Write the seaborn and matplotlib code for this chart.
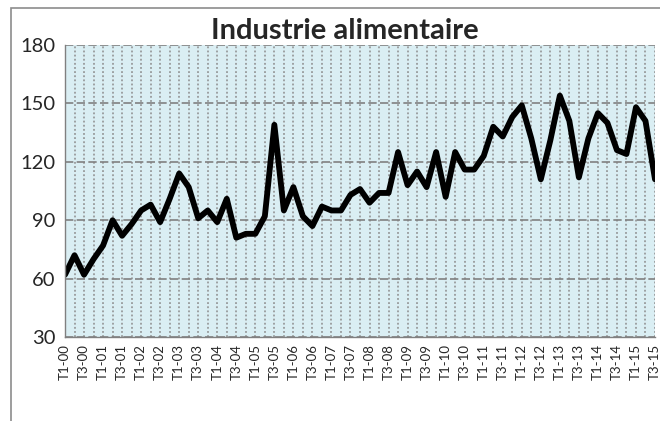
# Industrie alimentaire - indice trimestriel
import numpy as np
import pandas as pd
import matplotlib
matplotlib.use('Agg')
import matplotlib.pyplot as plt
import seaborn as sns
from matplotlib.patches import Rectangle

# data, T1-00 .. T3-15 (quarterly)
years = list(range(2000, 2016))
quarters = [f"T{q}-{y % 100:02d}" for y in years for q in (1, 2, 3, 4)][:63]
values = [62, 72, 62, 70, 77, 90, 82, 88, 95, 98,
          89, 101, 114, 107, 91, 95, 89, 101, 81, 83,
          83, 92, 139, 95, 107, 92, 87, 97, 95, 95,
          103, 106, 99, 104, 104, 125, 108, 115, 107, 125,
          102, 125, 116, 116, 123, 138, 133, 143, 149, 132,
          111, 131, 154, 141, 112, 132, 145, 140, 126, 124,
          148, 141, 111]
tick_labels = quarters[::2]

df = pd.DataFrame({'idx': np.arange(len(values)), 'val': values})

sns.set_style('white')
plt.rcParams['font.family'] = ['Lato', 'DejaVu Sans']

fig = plt.figure(figsize=(6.6, 4.21), dpi=100)
ax = fig.add_axes([65/660, 1-337/421, 590/660, 292/421])
ax.set_facecolor('#DAEEF3')

sns.lineplot(data=df, x='idx', y='val', color='black', linewidth=4.2, ax=ax)

ax.set_xlim(0, len(values) - 1)
ax.set_ylim(30, 180)
ax.set_yticks([30, 60, 90, 120, 150, 180])
ax.set_xticks(np.arange(0, len(values), 2))
ax.set_xticklabels(tick_labels, rotation=90, fontsize=9.5)
ax.set_xticks(np.arange(len(values)), minor=True)
ax.tick_params(axis='y', labelsize=14.5, direction='inout', length=6, color='#808080', width=1, pad=4)
ax.tick_params(axis='x', which='both', direction='inout', length=6, color='#808080', width=1, pad=2)
ax.set_xlabel('')
ax.set_ylabel('')

ax.grid(axis='y', which='major', color='#808080', linestyle=(0, (5, 2)), linewidth=1.2)
ax.grid(axis='x', which='both', color='#8c8c8c', linestyle=(0, (1.2, 1.5)), linewidth=1.1)
ax.set_axisbelow(True)

for s in ['top', 'right']:
    ax.spines[s].set_visible(False)
for s in ['left', 'bottom']:
    ax.spines[s].set_color('#808080')
    ax.spines[s].set_linewidth(1)

fig.text(345/660, 1-31/421, 'Industrie alimentaire', ha='center', va='center',
         fontsize=21, fontweight='bold')

# outer chart border (cut off at right and bottom in the original)
fig.patches.append(Rectangle((11/660, -0.1), 1.1, 1-8/421+0.1, transform=fig.transFigure,
                             fill=False, edgecolor='#8c8c8c', linewidth=1.2))

fig.savefig('out.png', dpi=100)
